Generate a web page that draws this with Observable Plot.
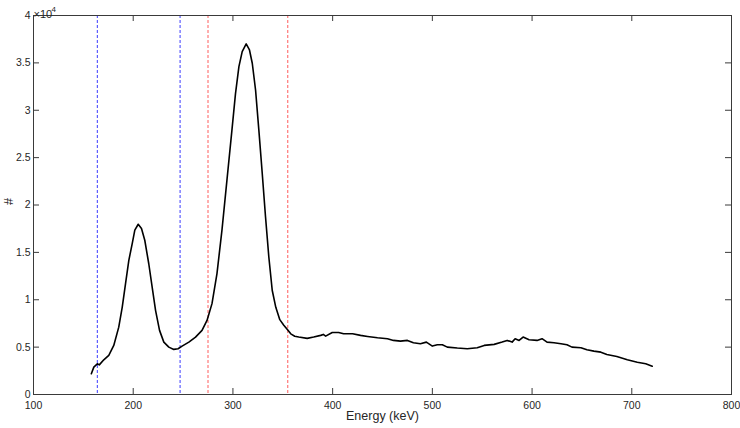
<!DOCTYPE html>
<html><head><meta charset="utf-8">
<script src="https://cdn.jsdelivr.net/npm/d3@7"></script>
<script src="https://cdn.jsdelivr.net/npm/@observablehq/plot@0.6"></script>
<style>body{margin:0;background:#fff}</style>
</head><body><div id="chart"></div>
<script>
const energy = [158,160.5,164,166,170.5,175.5,180.5,185.5,189,192.3,195.6,199,201.6,205,208.3,211.6,215.6,219,222.4,226.4,230.7,235.7,240.7,245,249,255.8,262.5,269,274,279,284,289,294,299,302.6,306,309.3,313.3,316.6,319.4,322.7,326,329.4,332.7,336,339.4,343,347,351,355,358,362,366,374.5,381,388,390.6,393,399.6,406,411,420,428,435,445,455,461,468,475,481,488,494,500,505,510,515,525,535,545,552,562,570,575,580,583,587,591,597,605,610,615,622,629,635,640,649,655,662,669,675,685,695.5,705.5,714,720.5];
const counts = [2190,2890,3240,3130,3660,4120,5180,7110,9230,11700,14160,15930,17340,17970,17520,16280,13800,11340,8880,6770,5530,5000,4760,4830,5110,5530,6060,6770,7820,9590,12760,17340,22620,27900,31780,34600,36180,37000,36360,34960,32140,27900,23330,18740,14510,11000,9200,7900,7300,6800,6400,6150,6060,5920,6060,6240,6340,6160,6550,6550,6410,6410,6240,6130,5990,5880,5710,5630,5710,5460,5360,5530,5110,5250,5250,5000,4900,4830,4940,5180,5290,5530,5710,5530,5890,5710,6060,5780,5710,5890,5530,5460,5360,5250,5000,4940,4720,4580,4470,4230,4020,3670,3410,3240,2990];
const blueLines = [164, 247];
const redLines = [275, 355];
const xTicks = [100,200,300,400,500,600,700,800];
const yTicks = [0,5000,10000,15000,20000,25000,30000,35000,40000];
const yTickLabels = ["0","0.5","1","1.5","2","2.5","3","3.5","4"];
const xLabel = "Energy (keV)";
const yLabel = "#";
const exponentBase = "×10";
const exponent = "4";

const data = energy.map((e, i) => ({e, c: counts[i]}));
const axisColor = "#3a3a3a";
const W = 740, H = 428, ML = 33, MR = 9, MT = 15, MB = 34, TL = 6;
const plotW = W - ML - MR, plotH = H - MT - MB;

const chart = Plot.plot({
  width: W, height: H,
  marginLeft: ML, marginRight: MR, marginTop: MT, marginBottom: MB,
  style: {fontFamily: "'Liberation Sans', Arial, sans-serif", fontSize: "10.5px", color: "#262626", background: "#fff"},
  x: {domain: [100, 800]},
  y: {domain: [0, 40000]},
  marks: [
    Plot.ruleX(blueLines, {stroke: "#3c3cff", strokeWidth: 1, strokeDasharray: "3,2"}),
    Plot.ruleX(redLines, {stroke: "#ff5c5c", strokeWidth: 1, strokeDasharray: "3,2"}),
    Plot.line(data, {x: "e", y: "c", stroke: "#000", strokeWidth: 1.6}),
    Plot.frame({stroke: axisColor, strokeWidth: 1}),
    Plot.axisX({ticks: xTicks, anchor: "bottom", tickSize: 0, tickPadding: 7, tickFormat: d => String(d), label: null, fontSize: 10.5}),
    Plot.axisY({ticks: yTicks, anchor: "left", tickSize: 0, tickPadding: 3, tickFormat: d => yTickLabels[yTicks.indexOf(d)], label: null, fontSize: 10.5}),
    Plot.tickX(xTicks, {x: d => d, insetTop: plotH - TL, stroke: axisColor, strokeWidth: 1}),
    Plot.tickX(xTicks, {x: d => d, insetBottom: plotH - TL, stroke: axisColor, strokeWidth: 1}),
    Plot.tickY(yTicks, {y: d => d, insetRight: plotW - TL, stroke: axisColor, strokeWidth: 1}),
    Plot.tickY(yTicks, {y: d => d, insetLeft: plotW - TL, stroke: axisColor, strokeWidth: 1}),
    Plot.text([xLabel], {frameAnchor: "bottom", dy: 25, fontSize: 12.5, fill: "#262626"}),
    Plot.text([yLabel], {frameAnchor: "left", dx: -25, rotate: -90, fontSize: 12.5, fill: "#262626"}),
    Plot.text([exponentBase], {frameAnchor: "top-left", textAnchor: "start", dy: -5, fontSize: 11, fill: "#262626"}),
    Plot.text([exponent], {frameAnchor: "top-left", textAnchor: "start", dx: 18, dy: -9, fontSize: 8, fill: "#262626"})
  ]
});
document.getElementById("chart").append(chart);
</script>
</body></html>
